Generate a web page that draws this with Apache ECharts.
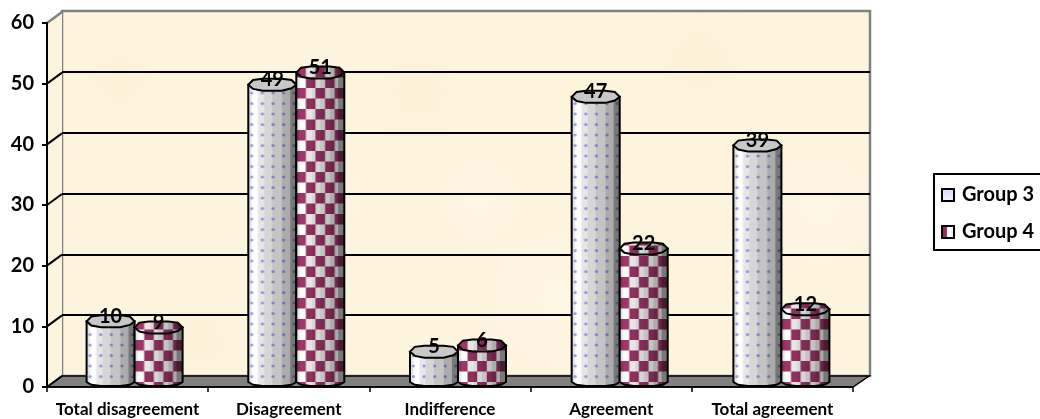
<!DOCTYPE html>
<html>
<head>
<meta charset="utf-8">
<style>
	html, body { margin: 0; padding: 0; background: #ffffff; }
	#main { width: 1040px; height: 419px; }
</style>
<script src="https://cdn.jsdelivr.net/npm/echarts@6/dist/echarts.min.js"></script>
</head>
<body>
<div id="main"></div>
<script>
// data
const categories = ['Total disagreement', 'Disagreement', 'Indifference', 'Agreement', 'Total agreement'];
const group3 = [10, 49, 5, 47, 39];
const group4 = [9, 51, 6, 22, 12];
const yTicks = [0, 10, 20, 30, 40, 50, 60];

// column shading, left to right: [end of band as share of width, grey]
const bands = [
	[0.07, '#e4e4e4'], [0.2, '#ffffff'], [0.33, '#e6e6e6'], [0.5, '#d6d6d6'],
	[0.7, '#c4c4c4'], [0.87, '#acacac'], [1, '#787878']
];
const barWidth = 48;
const cell = 10.6;

function shade(ctx, w, h) {
	ctx.globalCompositeOperation = 'multiply';
	let from = 0;
	bands.forEach(function(b) {
		ctx.fillStyle = b[1];
		ctx.fillRect(from * w, 0, (b[0] - from) * w, h);
		from = b[0];
	});
	ctx.globalCompositeOperation = 'source-over';
}

function newTile(w, h) {
	let c = document.createElement('canvas');
	c.width = w;
	c.height = h;
	return c;
}

// 点状纹理 group 3
function dotTile() {
	let h = Math.round(cell * 2);
	let c = newTile(barWidth, h);
	let ctx = c.getContext('2d');
	ctx.fillStyle = '#ffffff';
	ctx.fillRect(0, 0, barWidth, h);
	ctx.fillStyle = '#a4a4f4';
	for (let col = 0; col < 5; col++) {
		for (let row = 0; row < 2; row++) {
			ctx.beginPath();
			ctx.arc(3.5 + col * 10.6, 5 + row * cell, 1.6, 0, Math.PI * 2);
			ctx.fill();
		}
	}
	shade(ctx, barWidth, h);
	return c;
}

// 棋盘纹理 group 4
function checkerTile() {
	let h = Math.round(cell * 2);
	let c = newTile(barWidth, h);
	let ctx = c.getContext('2d');
	for (let col = 0; col < 5; col++) {
		for (let row = 0; row < 2; row++) {
			ctx.fillStyle = (col + row) % 2 === 1 ? '#ffffff' : '#a03568';
			ctx.fillRect(col * barWidth / 5, row * h / 2, barWidth / 5 + 1, h / 2 + 1);
		}
	}
	shade(ctx, barWidth, h);
	return c;
}

// soft mottled wall
function wallTile() {
	let c = newTile(1040, 419);
	let ctx = c.getContext('2d');
	ctx.fillStyle = '#fdf4de';
	ctx.fillRect(0, 0, 1040, 419);
	let blobs = [[120, 80, 70], [300, 200, 90], [420, 90, 80], [560, 300, 100], [700, 60, 90], [820, 210, 80], [200, 340, 70], [480, 200, 60]];
	blobs.forEach(function(b, i) {
		let g = ctx.createRadialGradient(b[0], b[1], 0, b[0], b[1], b[2]);
		g.addColorStop(0, i % 2 ? 'rgba(255,249,234,0.6)' : 'rgba(250,238,208,0.4)');
		g.addColorStop(1, 'rgba(253,244,222,0)');
		ctx.fillStyle = g;
		ctx.fillRect(0, 0, 1040, 419);
	});
	return c;
}

const dotPattern = { image: dotTile(), repeat: 'repeat' };
const checkerPattern = { image: checkerTile(), repeat: 'repeat' };
const wallPattern = { image: wallTile(), repeat: 'repeat' };

// depth of the 3D box, and of the plane the columns stand on
const depth = [15, -11];
const barShift = [7, -5];
const barSpread = 0.5;
const capH = 6;
const footH = 4;

function toPoints(list, w, h, y0) {
	return list.map(function(p) {
		return [p[0] * w, y0 + p[1] * h];
	});
}

const capShape = [[0, 0], [0.1, -0.8], [0.3, -1], [0.7, -1], [0.9, -0.8], [1, 0], [0.9, 0.6], [0.7, 1], [0.3, 1], [0.1, 0.7]];
const footShape = [[1, 0], [0.9, 0.7], [0.7, 1], [0.3, 1], [0.1, 0.7], [0, 0]];

function makeBars(seriesIndex, pattern, capFill) {
	return function(params, api) {
		let i = api.value(0);
		let v = api.value(1);
		let top = api.coord([i, v]);
		let base = api.coord([i, 0]);
		let w = barWidth;
		let left = top[0] + barShift[0] + i * barSpread + (seriesIndex === 0 ? -w : 0);
		let bodyH = base[1] - top[1];
		// 柱身
		let body = [[w, -bodyH], [0, -bodyH]].concat(toPoints(footShape, w, footH, 0).reverse());
		return {
			type: 'group',
			x: left,
			y: base[1] + barShift[1],
			children: [
				{
					type: 'polygon',
					shape: { points: body },
					style: { fill: pattern, stroke: '#000000', lineWidth: 2 }
				},
				{
					type: 'polygon',
					shape: { points: toPoints(capShape, w, capH, -bodyH) },
					style: { fill: capFill, stroke: '#000000', lineWidth: 2 }
				},
				{
					type: 'text',
					style: {
						text: String(v),
						x: w / 2,
						y: -bodyH - 5,
						textAlign: 'center',
						textVerticalAlign: 'middle',
						font: 'bold 20px Lato',
						fill: '#000000'
					}
				}
			]
		};
	};
}

// left wall, floor and the slanted tick lines
function renderScene(params, api) {
	let box = params.coordSys;
	let v = api.value(0);
	let y = api.coord([0, v])[1];
	let children = [];
	if (params.dataIndex === 0) {
		let x0 = box.x;
		let x1 = box.x + box.width;
		let yTop = box.y;
		let yBot = box.y + box.height;
		children.push({
			type: 'polygon',
			shape: { points: [[x0, yTop], [x0 + depth[0], yTop + depth[1]], [x0 + depth[0], yBot + depth[1]], [x0, yBot]] },
			style: { fill: wallPattern, stroke: null }
		});
		children.push({
			type: 'polygon',
			shape: { points: [[x0, yBot], [x0 + depth[0], yBot + depth[1]], [x1 + depth[0] + 1, yBot + depth[1]], [x1, yBot]] },
			style: { fill: '#808080', stroke: '#000000', lineWidth: 1.5 }
		});
	}
	children.push({
		type: 'line',
		shape: { x1: box.x, y1: y, x2: box.x + depth[0], y2: y + depth[1] },
		style: { stroke: v === 60 ? '#808080' : '#000000', lineWidth: v === 60 ? 2.5 : 2 }
	});
	return { type: 'group', children: children };
}

let myChart = echarts.init(document.getElementById('main'));

let option = {
	backgroundColor: '#ffffff',
	animation: false,
	legend: {
		orient: 'vertical',
		left: 934,
		top: 174,
		padding: [11, 20, 8, 7],
		itemWidth: 12,
		itemHeight: 12,
		itemGap: 17,
		borderColor: '#000000',
		borderWidth: 2,
		textStyle: { fontFamily: 'Lato', fontWeight: 'bold', fontSize: 20, color: '#000000', padding: [0, 0, 0, 3] },
		data: [
			{
				name: 'Group 3',
				icon: 'rect',
				itemStyle: {
					color: new echarts.graphic.LinearGradient(0, 0, 0, 1, [
						{ offset: 0, color: '#d8d8ff' }, { offset: 1, color: '#f6f6fa' }
					]),
					borderColor: '#000000',
					borderWidth: 2
				}
			},
			{
				name: 'Group 4',
				icon: 'rect',
				itemStyle: {
					color: new echarts.graphic.LinearGradient(0, 0, 1, 0, [
						{ offset: 0, color: '#7a2a52' }, { offset: 0.42, color: '#a03568' },
						{ offset: 0.42, color: '#ffffff' }, { offset: 1, color: '#ececec' }
					]),
					borderColor: '#000000',
					borderWidth: 2
				}
			}
		]
	},
	grid: [
		{ left: 47, top: 23, width: 806, height: 364 },
		{ left: 62, top: 11, width: 808, height: 365, show: true, backgroundColor: wallPattern, borderColor: '#808080', borderWidth: 2.5 }
	],
	xAxis: [
		{
			type: 'category',
			gridIndex: 0,
			data: categories,
			z: 3,
			axisLine: { show: true, lineStyle: { color: '#000000', width: 1.5 } },
			axisTick: { show: true, length: 5, lineStyle: { color: '#000000', width: 1.5 } },
			axisLabel: { fontFamily: 'Lato', fontWeight: 'bold', fontSize: 17, color: '#000000', margin: 14, interval: 0 }
		},
		{
			type: 'category',
			gridIndex: 1,
			data: categories,
			show: false
		}
	],
	yAxis: [
		{
			type: 'value',
			gridIndex: 0,
			min: 0,
			max: 60,
			interval: 10,
			z: 3,
			splitLine: { show: false },
			axisLine: { show: true, lineStyle: { color: '#000000', width: 2 } },
			axisTick: { show: true, length: 5, lineStyle: { color: '#000000', width: 2 } },
			axisLabel: {
				fontFamily: 'Lato', fontWeight: 'bold', fontSize: 20, color: '#000000', margin: 13,
				formatter: function(v) { return yTicks.indexOf(v) >= 0 ? String(v) : ''; }
			}
		},
		{
			type: 'value',
			gridIndex: 1,
			min: 0,
			max: 60,
			interval: 10,
			axisLine: { show: false },
			axisTick: { show: false },
			axisLabel: { show: false },
			splitLine: { show: true, showMinLine: false, showMaxLine: false, lineStyle: { color: '#000000', width: 2 } }
		}
	],
	series: [
		{
			type: 'custom',
			xAxisIndex: 0,
			yAxisIndex: 0,
			z: 1,
			silent: true,
			clip: false,
			encode: { y: 0 },
			data: yTicks.map(function(v) { return [v]; }),
			renderItem: renderScene
		},
		{
			name: 'Group 3',
			type: 'custom',
			xAxisIndex: 0,
			yAxisIndex: 0,
			z: 5,
			clip: false,
			encode: { x: 0, y: 1 },
			data: group3.map(function(v, i) { return [i, v]; }),
			renderItem: makeBars(0, dotPattern, '#c8c8c8')
		},
		{
			name: 'Group 4',
			type: 'custom',
			xAxisIndex: 0,
			yAxisIndex: 0,
			z: 5,
			clip: false,
			encode: { x: 0, y: 1 },
			data: group4.map(function(v, i) { return [i, v]; }),
			renderItem: makeBars(1, checkerPattern, checkerPattern)
		}
	]
};

myChart.setOption(option);

window.addEventListener('resize', function() {
	myChart.resize();
});
</script>
</body>
</html>
